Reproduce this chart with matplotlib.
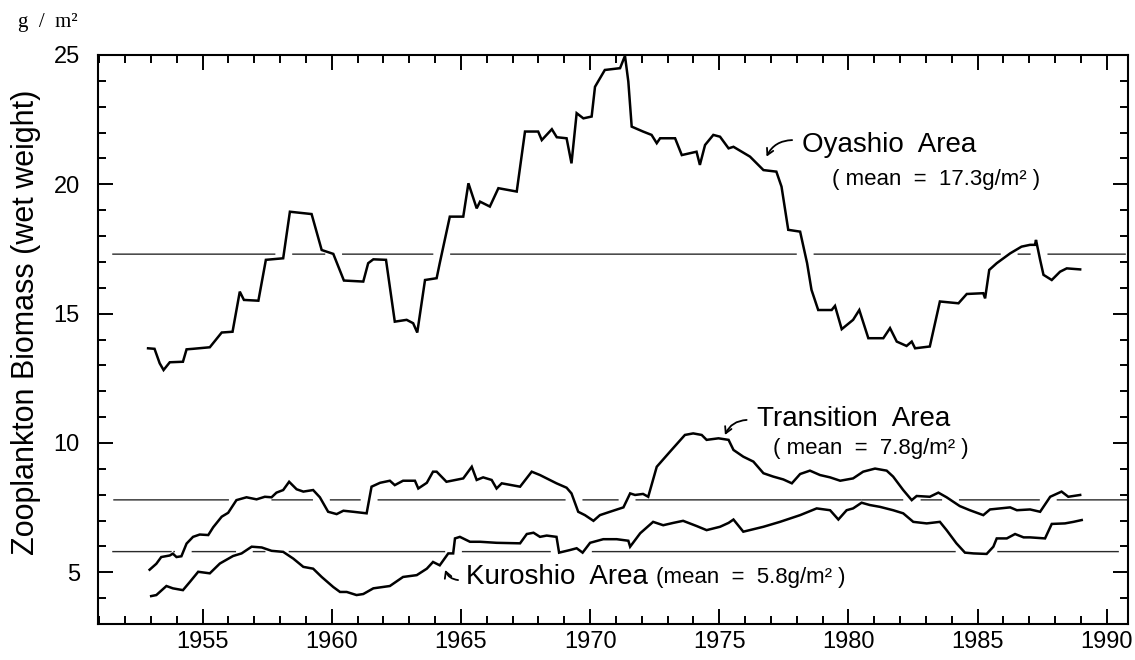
import numpy as np
import matplotlib
matplotlib.use("Agg")
import matplotlib.pyplot as plt
from matplotlib.ticker import MultipleLocator

# running-mean zooplankton biomass, g/m2 wet weight
oyashio_yr = [1952.89, 1953.14, 1953.34, 1953.49, 1953.73, 1954.24, 1954.38, 1954.63, 1955.28, 1955.74,
              1956.16, 1956.44, 1956.60, 1957.16, 1957.45, 1958.12, 1958.38, 1959.22, 1959.61, 1960.06,
              1960.47, 1961.22, 1961.41, 1961.61, 1962.10, 1962.44, 1962.90, 1963.15, 1963.31, 1963.61,
              1964.06, 1964.18, 1964.57, 1965.09, 1965.29, 1965.61, 1965.74, 1966.12, 1966.45, 1967.16,
              1967.48, 1967.99, 1968.13, 1968.52, 1968.71, 1969.09, 1969.28, 1969.48, 1969.74, 1970.06,
              1970.19, 1970.57, 1971.16, 1971.35, 1971.48, 1971.61, 1972.05, 1972.38, 1972.58, 1972.71,
              1973.29, 1973.55, 1974.12, 1974.25, 1974.45, 1974.77, 1975.03, 1975.36, 1975.55, 1976.19,
              1976.71, 1977.21, 1977.41, 1977.67, 1978.13, 1978.40, 1978.57, 1978.83, 1979.35, 1979.48,
              1979.74, 1980.18, 1980.42, 1980.77, 1981.35, 1981.61, 1981.87, 1982.25, 1982.45, 1982.58,
              1983.15, 1983.54, 1984.26, 1984.58, 1985.22, 1985.29, 1985.45, 1985.74, 1986.26, 1986.70,
              1987.03, 1987.22, 1987.26, 1987.42, 1987.55, 1987.87, 1988.19, 1988.45, 1988.97]
oyashio = [13.66, 13.64, 13.08, 12.82, 13.12, 13.14, 13.62, 13.64, 13.70, 14.27,
           14.30, 15.85, 15.53, 15.50, 17.08, 17.14, 18.94, 18.85, 17.46, 17.31,
           16.28, 16.24, 16.95, 17.10, 17.08, 14.69, 14.76, 14.63, 14.27, 16.30,
           16.37, 16.95, 18.75, 18.75, 20.04, 19.07, 19.33, 19.14, 19.85, 19.72,
           22.04, 22.04, 21.71, 22.13, 21.82, 21.78, 20.81, 22.75, 22.55, 22.62,
           23.77, 24.42, 24.49, 24.97, 23.97, 22.23, 22.04, 21.91, 21.59, 21.78,
           21.78, 21.13, 21.26, 20.75, 21.52, 21.91, 21.84, 21.39, 21.45, 21.07,
           20.55, 20.49, 19.91, 18.24, 18.17, 16.95, 15.92, 15.14, 15.14, 15.30,
           14.40, 14.76, 15.14, 14.05, 14.05, 14.44, 13.92, 13.75, 13.92, 13.66,
           13.73, 15.47, 15.40, 15.76, 15.79, 15.59, 16.69, 16.95, 17.33, 17.59,
           17.66, 17.66, 17.85, 17.08, 16.50, 16.30, 16.62, 16.75, 16.71]

transition_yr = [1952.95, 1953.21, 1953.40, 1953.73, 1953.85, 1953.99, 1954.18, 1954.38, 1954.63, 1954.89,
                 1955.22, 1955.41, 1955.74, 1955.99, 1956.31, 1956.70, 1957.09, 1957.41, 1957.67, 1957.86,
                 1958.12, 1958.35, 1958.64, 1958.90, 1959.28, 1959.54, 1959.86, 1960.19, 1960.45, 1960.83,
                 1961.35, 1961.54, 1961.87, 1962.25, 1962.44, 1962.76, 1963.22, 1963.35, 1963.68, 1963.92,
                 1964.06, 1964.44, 1965.09, 1965.42, 1965.61, 1965.86, 1966.19, 1966.38, 1966.58, 1967.29,
                 1967.74, 1968.06, 1968.32, 1968.70, 1969.09, 1969.28, 1969.54, 1969.80, 1970.13, 1970.38,
                 1970.77, 1971.29, 1971.55, 1971.74, 1972.05, 1972.25, 1972.58, 1973.09, 1973.67, 1973.99,
                 1974.32, 1974.51, 1974.97, 1975.36, 1975.55, 1975.93, 1976.32, 1976.71, 1977.09, 1977.48,
                 1977.81, 1978.13, 1978.51, 1978.90, 1979.29, 1979.68, 1980.18, 1980.57, 1981.03, 1981.48,
                 1981.73, 1982.12, 1982.45, 1982.64, 1983.15, 1983.48, 1983.80, 1984.31, 1984.70, 1985.22,
                 1985.48, 1986.26, 1986.52, 1987.03, 1987.42, 1987.81, 1988.25, 1988.51, 1988.97]
transition = [5.10, 5.33, 5.59, 5.65, 5.72, 5.59, 5.62, 6.11, 6.37, 6.46,
              6.44, 6.74, 7.15, 7.30, 7.79, 7.90, 7.82, 7.92, 7.90, 8.08,
              8.18, 8.50, 8.21, 8.12, 8.18, 7.90, 7.34, 7.25, 7.38, 7.34,
              7.28, 8.31, 8.46, 8.54, 8.37, 8.54, 8.54, 8.24, 8.46, 8.89,
              8.89, 8.50, 8.63, 9.08, 8.57, 8.67, 8.57, 8.24, 8.44, 8.31,
              8.89, 8.76, 8.63, 8.44, 8.27, 8.05, 7.34, 7.21, 6.99, 7.21,
              7.34, 7.51, 8.05, 7.99, 8.03, 7.92, 9.08, 9.66, 10.31, 10.37,
              10.31, 10.12, 10.18, 10.12, 9.73, 9.47, 9.28, 8.83, 8.70, 8.59,
              8.44, 8.80, 8.93, 8.76, 8.67, 8.54, 8.63, 8.89, 9.01, 8.93,
              8.70, 8.18, 7.79, 7.95, 7.92, 8.08, 7.90, 7.56, 7.40, 7.21,
              7.43, 7.51, 7.40, 7.43, 7.34, 7.92, 8.12, 7.92, 7.99]

kuroshio_yr = [1953.01, 1953.21, 1953.60, 1953.85, 1954.24, 1954.51, 1954.83, 1955.28, 1955.67, 1956.18,
               1956.51, 1956.90, 1957.29, 1957.67, 1958.12, 1958.51, 1958.90, 1959.28, 1959.61, 1960.06,
               1960.32, 1960.58, 1960.96, 1961.22, 1961.61, 1962.25, 1962.76, 1963.29, 1963.68, 1963.92,
               1964.18, 1964.51, 1964.70, 1964.77, 1964.96, 1965.35, 1965.74, 1966.38, 1967.29, 1967.55,
               1967.81, 1968.06, 1968.32, 1968.70, 1968.80, 1969.22, 1969.48, 1969.71, 1970.00, 1970.51,
               1971.03, 1971.48, 1971.55, 1971.94, 1972.44, 1972.83, 1973.22, 1973.60, 1974.12, 1974.51,
               1975.03, 1975.36, 1975.55, 1975.93, 1976.71, 1977.35, 1978.13, 1978.77, 1979.29, 1979.61,
               1979.93, 1980.18, 1980.51, 1980.83, 1981.22, 1981.73, 1982.12, 1982.51, 1983.03, 1983.54,
               1983.80, 1984.18, 1984.51, 1984.84, 1985.35, 1985.61, 1985.74, 1986.13, 1986.45, 1986.78,
               1987.03, 1987.61, 1987.87, 1988.38, 1988.71, 1989.03]
kuroshio = [4.08, 4.12, 4.47, 4.38, 4.31, 4.63, 5.02, 4.96, 5.34, 5.63,
            5.73, 5.99, 5.96, 5.83, 5.79, 5.53, 5.21, 5.14, 4.82, 4.43,
            4.24, 4.24, 4.12, 4.16, 4.38, 4.47, 4.82, 4.89, 5.14, 5.40,
            5.27, 5.73, 5.73, 6.31, 6.37, 6.18, 6.18, 6.14, 6.12, 6.48,
            6.53, 6.37, 6.42, 6.37, 5.76, 5.86, 5.93, 5.76, 6.14, 6.28,
            6.28, 6.22, 5.99, 6.51, 6.95, 6.82, 6.91, 6.99, 6.79, 6.63,
            6.76, 6.91, 7.04, 6.57, 6.76, 6.95, 7.21, 7.47, 7.40, 7.04,
            7.40, 7.47, 7.69, 7.60, 7.53, 7.40, 7.28, 6.95, 6.89, 6.95,
            6.63, 6.12, 5.76, 5.73, 5.71, 5.99, 6.31, 6.31, 6.48, 6.35,
            6.35, 6.31, 6.87, 6.89, 6.95, 7.02]

means = [17.3, 7.8, 5.8]
mean_spans = [(1951.53, 1990.71), (1951.57, 1990.87), (1951.53, 1990.44)]

all_series = [(oyashio_yr, oyashio), (transition_yr, transition), (kuroshio_yr, kuroshio)]


def broken_mean(m, x0, x1):
    # the mean line is left open wherever a curve runs on it or crosses it
    xs = np.linspace(x0, x1, 4000)
    gap = np.zeros(xs.size, bool)
    for sx, sy in all_series:
        inside = (xs >= sx[0]) & (xs <= sx[-1])
        d = np.interp(xs, sx, sy) - m
        gap |= inside & (np.abs(d) < 0.12)
        flip = inside[1:] & inside[:-1] & (np.sign(d[1:]) != np.sign(d[:-1]))
        for c in xs[1:][flip]:
            gap |= np.abs(xs - c) < 0.35
    return xs, np.where(gap, np.nan, m)


plt.rcParams['font.family'] = ['Liberation Sans', 'DejaVu Sans']

fig = plt.figure(figsize=(11.35, 6.6), dpi=100)
ax = fig.add_axes([0.0863, 0.0545, 0.9075, 0.8622])

for m, (x0, x1) in zip(means, mean_spans):
    xs, ys = broken_mean(m, x0, x1)
    ax.plot(xs, ys, color='#2a2a2a', lw=1.0)

for sx, sy in all_series:
    ax.plot(sx, sy, color='black', lw=1.8, solid_joinstyle='miter')

ax.set_xlim(1950.95, 1990.82)
ax.set_ylim(3.0, 25.0)
ax.xaxis.set_major_locator(MultipleLocator(5))
ax.xaxis.set_minor_locator(MultipleLocator(1))
ax.yaxis.set_major_locator(MultipleLocator(5))
ax.yaxis.set_minor_locator(MultipleLocator(1))

ax.tick_params(which='both', direction='in', top=True, right=True, width=1.4, color='black')
ax.tick_params(which='major', length=11)
ax.tick_params(which='minor', length=5.5)
ax.tick_params(axis='x', which='major', pad=5, labelsize=17)
ax.tick_params(axis='y', which='major', pad=13, labelsize=17)
for sp in ax.spines.values():
    sp.set_linewidth(1.5)

ax.set_ylabel('Zooplankton Biomass (wet weight)', fontsize=22)
ax.yaxis.set_label_coords(-0.07, 0.53)
ax.yaxis.label.set_verticalalignment('center')

fig.text(0.016, 0.966, 'g  /  m²', fontsize=15, family=['Liberation Serif', 'DejaVu Serif'],
         ha='left', va='center')

arrow = dict(arrowstyle='->, head_length=0.45, head_width=0.25', color='black', lw=1.3,
             connectionstyle='arc3,rad=0.3', shrinkA=0, shrinkB=0)

ax.text(1978.2, 21.52, 'Oyashio  Area', fontsize=20, ha='left', va='center')
ax.text(1979.36, 20.17, '( mean  =  17.3g/m² )', fontsize=16, ha='left', va='center')
ax.annotate('', xy=(1976.83, 21.07), xytext=(1977.82, 21.71), arrowprops=arrow)

ax.text(1976.46, 10.93, 'Transition  Area', fontsize=20, ha='left', va='center')
ax.text(1977.08, 9.77, '( mean  =  7.8g/m² )', fontsize=16, ha='left', va='center')
ax.annotate('', xy=(1975.22, 10.31), xytext=(1976.06, 10.89), arrowprops=arrow)

ax.text(1965.19, 4.82, 'Kuroshio  Area', fontsize=20, ha='left', va='center')
ax.text(1972.55, 4.80, '(mean  =  5.8g/m² )', fontsize=16, ha='left', va='center')
ax.annotate('', xy=(1964.39, 5.09), xytext=(1964.89, 4.70),
            arrowprops=dict(arrow, connectionstyle='arc3,rad=-0.3'))

fig.savefig('out.png', dpi=100)
